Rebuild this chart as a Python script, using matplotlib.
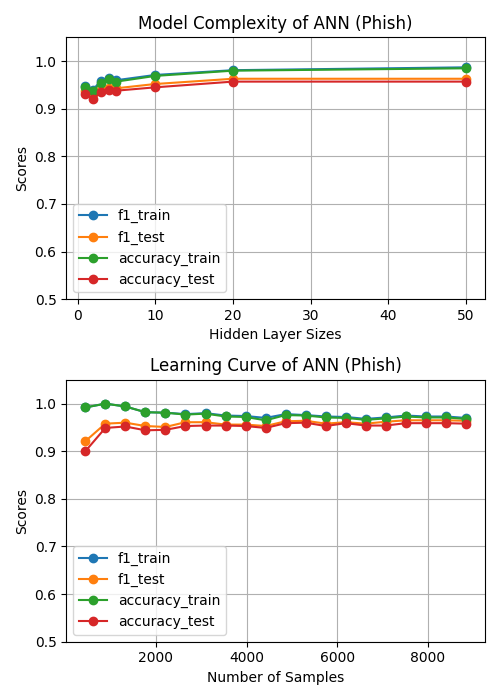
import matplotlib
matplotlib.use("Agg")
import matplotlib.pyplot as plt
import numpy as np

hidden = [1, 2, 3, 4, 5, 10, 20, 50]
h_f1_train = [0.947, 0.940, 0.959, 0.965, 0.960, 0.971, 0.981, 0.987]
h_f1_test = [0.938, 0.930, 0.940, 0.943, 0.943, 0.952, 0.963, 0.963]
h_acc_train = [0.945, 0.938, 0.955, 0.962, 0.957, 0.969, 0.980, 0.985]
h_acc_test = [0.930, 0.921, 0.935, 0.940, 0.938, 0.945, 0.957, 0.957]

samples = [442 * i for i in range(1, 21)]
l_f1_train = [0.992, 1.0, 0.994, 0.982, 0.981, 0.978, 0.980, 0.975, 0.974, 0.970,
              0.978, 0.976, 0.973, 0.972, 0.968, 0.971, 0.975, 0.973, 0.973, 0.970]
l_acc_train = [0.992, 1.0, 0.994, 0.982, 0.981, 0.977, 0.979, 0.973, 0.972, 0.965,
               0.976, 0.975, 0.971, 0.970, 0.966, 0.969, 0.973, 0.971, 0.971, 0.968]
l_f1_test = [0.921, 0.958, 0.960, 0.953, 0.951, 0.961, 0.961, 0.956, 0.956, 0.953,
             0.963, 0.964, 0.958, 0.961, 0.958, 0.962, 0.965, 0.965, 0.965, 0.964]
l_acc_test = [0.900, 0.949, 0.952, 0.944, 0.945, 0.953, 0.954, 0.954, 0.953, 0.949,
              0.959, 0.960, 0.953, 0.959, 0.954, 0.954, 0.959, 0.959, 0.959, 0.958]

fig, axes = plt.subplots(2, 1, figsize=(5, 7), dpi=100)
for ax, x, series, title, xl in [
    (axes[0], hidden, [h_f1_train, h_f1_test, h_acc_train, h_acc_test],
     "Model Complexity of ANN (Phish)", "Hidden Layer Sizes"),
    (axes[1], samples, [l_f1_train, l_f1_test, l_acc_train, l_acc_test],
     "Learning Curve of ANN (Phish)", "Number of Samples"),
]:
    for s, lab in zip(series, ["f1_train", "f1_test", "accuracy_train", "accuracy_test"]):
        ax.plot(x, s, marker="o", label=lab)
    ax.set_ylim(0.5, 1.05)
    ax.set_title(title)
    ax.set_xlabel(xl)
    ax.set_ylabel("Scores")
    ax.grid(True)
    ax.legend(loc="lower left")
fig.tight_layout()
fig.savefig("out.png")
